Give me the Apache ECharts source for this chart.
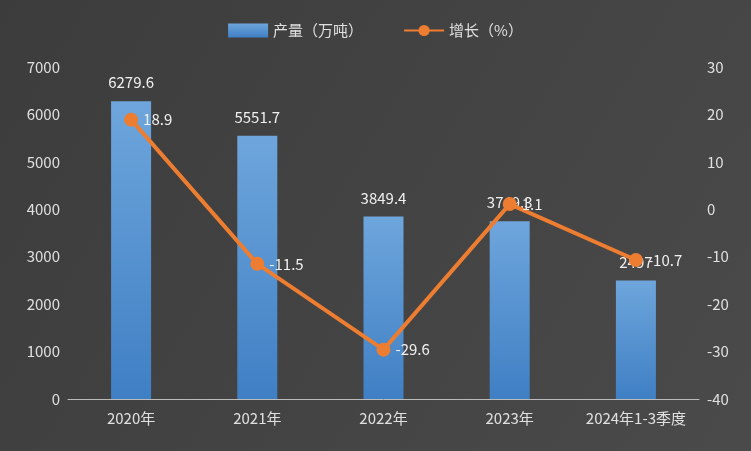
<!DOCTYPE html>
<html><head><meta charset="utf-8">
<script src="https://cdn.jsdelivr.net/npm/echarts@6/dist/echarts.min.js"></script>
<style>html,body{margin:0;padding:0;background:#434343}#c{width:751px;height:451px}</style>
</head><body><div id="c"></div>
<script>
const categories = ['2020年','2021年','2022年','2023年','2024年1-3季度'];
const output = [6279.6,5551.7,3849.4,3749.3,2497];
const growth = [18.9,-11.5,-29.6,1.1,-10.7];
const chart = echarts.init(document.getElementById('c'));
const txt = '#e0e0e0';
chart.setOption({
  backgroundColor: new echarts.graphic.LinearGradient(0,0,1,1,[{offset:0,color:'#3c3c3c'},{offset:1,color:'#4a4a4a'}]),
  textStyle:{fontFamily:'Microsoft YaHei, Noto Sans CJK SC, sans-serif'},
  legend:{top:18,left:'center',itemGap:40,textStyle:{color:txt,fontSize:15},
    data:[{name:'产量（万吨）',icon:'rect'},{name:'增长（%）'}],itemWidth:40,itemHeight:14},
  grid:{left:68,right:52,top:67,bottom:52},
  xAxis:{type:'category',data:categories,axisLine:{lineStyle:{color:'#bbbbbb'}},axisTick:{show:false},
    axisLabel:{color:txt,fontSize:15,margin:12,interval:0}},
  yAxis:[{type:'value',min:0,max:7000,interval:1000,axisLabel:{color:txt,fontSize:15,formatter:v=>String(v)},splitLine:{show:false},axisLine:{show:false}},
    {type:'value',min:-40,max:30,interval:10,axisLabel:{color:txt,fontSize:15},splitLine:{show:false},axisLine:{show:false}}],
  series:[
    {name:'产量（万吨）',type:'bar',data:output,barWidth:40,
     itemStyle:{color:new echarts.graphic.LinearGradient(0,0,0,1,[{offset:0,color:'#6ea6dc'},{offset:1,color:'#3f7fc4'}])},
     label:{show:true,position:'top',color:'#f0f0f0',fontSize:15,offset:[0,-6]}},
    {name:'增长（%）',type:'line',yAxisIndex:1,data:growth,symbol:'circle',symbolSize:14,
     lineStyle:{color:'#ED7D31',width:4},itemStyle:{color:'#ED7D31'},
     label:{show:true,position:'right',color:'#f0f0f0',fontSize:15}}
  ]
});
</script></body></html>
